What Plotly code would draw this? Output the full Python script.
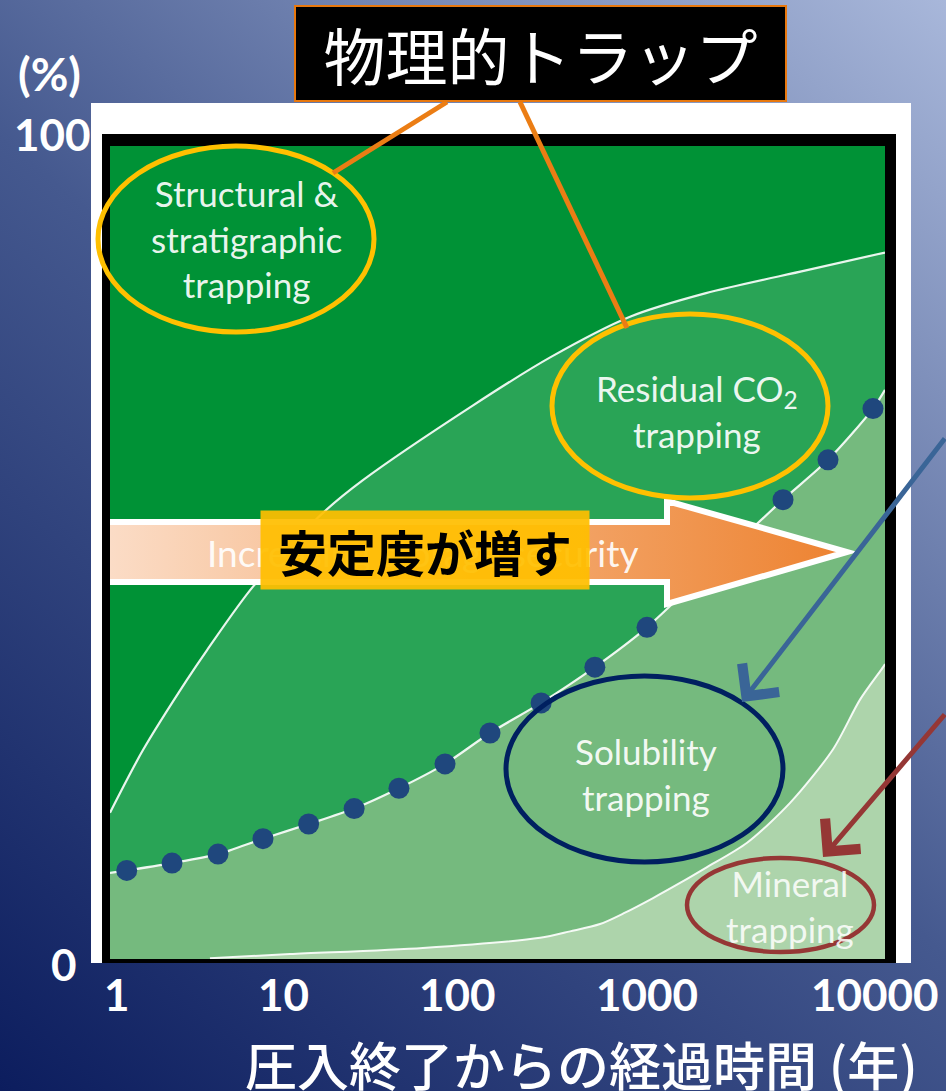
import base64
import math
import plotly.graph_objects as go

# ---- data: share of stored CO2 (%) versus years after injection stops ----
# upper edge of residual CO2 trapping (boundary with structural trapping)
RESIDUAL_YEARS = [1, 1.48, 2.49, 3.17, 5.47, 12.6, 20.2, 74.8, 187, 483, 1191, 3908, 10000]
RESIDUAL_PCT = [18.0, 25.7, 34.3, 38.0, 45.8, 54.9, 58.9, 68.1, 74.0, 79.0, 81.9, 84.7, 86.9]

# upper edge of solubility trapping
SOLUBILITY_YEARS = [1, 1.22, 2.09, 3.61, 6.16, 10.6, 18.2, 31.0, 53.6, 91.5, 168, 318, 591,
                    1010, 1722, 2976, 5080, 8670, 10000]
SOLUBILITY_PCT = [10.6, 10.9, 11.8, 12.9, 14.8, 16.6, 18.5, 21.0, 24.0, 27.8, 31.5, 35.9, 40.8,
                  46.0, 51.2, 56.5, 61.4, 67.7, 70.0]

# upper edge of mineral trapping
MINERAL_YEARS = [3.28, 8.49, 41.2, 166, 237, 338, 455, 635, 875, 1206, 1941, 3236, 5395, 7430,
                 9772, 10000]
MINERAL_PCT = [0.1, 0.6, 1.35, 2.6, 3.4, 4.3, 5.7, 7.5, 9.35, 11.3, 14.3, 19.2, 25.8, 31.9,
               35.9, 36.3]

# dotted marker line along the solubility edge
DOT_YEARS = [1.22, 2.09, 3.61, 6.16, 10.6, 18.2, 31.0, 53.6, 91.5, 168, 318, 591,
             1010, 1722, 2976, 5080, 8670]
DOT_PCT = [10.9, 11.8, 12.9, 14.8, 16.6, 18.5, 21.0, 24.0, 27.8, 31.5, 35.9, 40.8,
           46.0, 51.2, 56.5, 61.4, 67.7]

X_TICK_VALUES = [1, 10, 100, 1000, 10000]
X_TICK_LABELS = ["1", "10", "100", "1000", "10000"]
Y_TICK_VALUES = [0, 100]
Y_TICK_LABELS = ["0", "100"]

# ---- page geometry (pixels) ----
W, H = 946, 1091
PL, PR, PT, PB = 110, 885, 146, 959          # plot area edges
PW, PH = PR - PL, PB - PT


def fx(px):
    return (px - PL) / PW


def fy(py):
    return (PB - py) / PH


def svg_uri(svg):
    return "data:image/svg+xml;base64," + base64.b64encode(svg.encode("utf-8")).decode("ascii")


C_STRUCT = "#009236"
C_RESID = "#29A456"
C_SOLUB = "#75BA7E"
C_MINER = "#ADD4AB"
C_DOT = "#1F477D"
EDGE = "rgba(255,255,255,0.9)"
LABEL_FONT = "Lato, 'Open Sans', sans-serif"
NUM_FONT = "Lato, 'DejaVu Sans', sans-serif"
JP_FONT = "'Noto Sans CJK JP', sans-serif"

fig = go.Figure()

# structural trapping fills the whole area, later layers stack over it
fig.add_trace(go.Scatter(x=[1, 10000], y=[100, 100], mode="lines", line=dict(width=0),
                         fill="tozeroy", fillcolor=C_STRUCT, hoverinfo="skip", showlegend=False))
fig.add_trace(go.Scatter(x=RESIDUAL_YEARS, y=RESIDUAL_PCT, mode="lines",
                         line=dict(color=EDGE, width=2.2, shape="spline", smoothing=0.8),
                         fill="tozeroy", fillcolor=C_RESID, hoverinfo="skip", showlegend=False))
fig.add_trace(go.Scatter(x=SOLUBILITY_YEARS, y=SOLUBILITY_PCT, mode="lines",
                         line=dict(color=EDGE, width=2.2, shape="spline", smoothing=0.8),
                         fill="tozeroy", fillcolor=C_SOLUB, hoverinfo="skip", showlegend=False))
fig.add_trace(go.Scatter(x=MINERAL_YEARS, y=MINERAL_PCT, mode="lines",
                         line=dict(color=EDGE, width=2, shape="spline", smoothing=0.8),
                         fill="tozeroy", fillcolor=C_MINER, hoverinfo="skip", showlegend=False))
fig.add_trace(go.Scatter(x=DOT_YEARS, y=DOT_PCT, mode="markers",
                         marker=dict(color=C_DOT, size=21, line=dict(width=0)),
                         hoverinfo="skip", showlegend=False))

# slide background: diagonal blue gradient
bg_svg = (
    f'<svg xmlns="http://www.w3.org/2000/svg" width="{W}" height="{H}" viewBox="0 0 {W} {H}" '
    'preserveAspectRatio="none"><defs>'
    f'<linearGradient id="g" x1="0" y1="{H}" x2="{W}" y2="0" gradientUnits="userSpaceOnUse">'
    '<stop offset="0" stop-color="#0C1D5E"/><stop offset="0.5" stop-color="#45598F"/>'
    '<stop offset="1" stop-color="#A8B7DA"/></linearGradient></defs>'
    f'<rect width="{W}" height="{H}" fill="url(#g)"/></svg>'
)

# "increasing storage security" arrow with a peach-to-orange gradient,
# clipped at the left edge of the plot so the shaft runs out of the frame
arrow_pts = [(100, 522), (667, 522), (667, 501), (847, 552), (667, 604), (667, 582), (100, 582)]
arrow_svg = (
    f'<svg xmlns="http://www.w3.org/2000/svg" width="{W}" height="{H}" viewBox="0 0 {W} {H}" '
    'preserveAspectRatio="none"><defs>'
    '<linearGradient id="a" x1="110" y1="0" x2="850" y2="0" gradientUnits="userSpaceOnUse">'
    '<stop offset="0" stop-color="#FBDCC6"/><stop offset="0.45" stop-color="#F5B27E"/>'
    '<stop offset="1" stop-color="#ED8230"/></linearGradient>'
    f'<clipPath id="c"><rect x="{PL}" y="0" width="{W - PL}" height="{H}"/></clipPath></defs>'
    '<polygon clip-path="url(#c)" points="' + " ".join(f"{x},{y}" for x, y in arrow_pts) + '" '
    'fill="url(#a)" stroke="#FFFFFF" stroke-width="6" stroke-linejoin="miter"/></svg>'
)

full_page = dict(xref="paper", yref="paper", x=fx(0), y=fy(0), sizex=W / PW, sizey=H / PH,
                 xanchor="left", yanchor="top", sizing="stretch")
images = [
    dict(source=svg_uri(bg_svg), layer="below", **full_page),
    dict(source=svg_uri(arrow_svg), layer="above", **full_page),
]


def rect(x0, y0, x1, y1, color, layer="below"):
    return dict(type="rect", xref="paper", yref="paper", x0=fx(x0), x1=fx(x1), y0=fy(y1), y1=fy(y0),
                fillcolor=color, line=dict(width=0), layer=layer)


def ellipse(x0, y0, x1, y1, color, width):
    return dict(type="circle", xref="paper", yref="paper", x0=fx(x0), x1=fx(x1), y0=fy(y1), y1=fy(y0),
                line=dict(color=color, width=width), fillcolor="rgba(0,0,0,0)", layer="above")


def seg(x0, y0, x1, y1, color, width):
    return dict(type="line", xref="paper", yref="paper", x0=fx(x0), y0=fy(y0), x1=fx(x1), y1=fy(y1),
                line=dict(color=color, width=width), layer="above")


shapes = [
    rect(91, 103, 911, 963, "#FFFFFF"),
    rect(102, 134, 896, 963, "#000000"),
    ellipse(98, 146, 374, 332, "#FFC000", 5),
    ellipse(552, 314, 828, 498, "#FFC000", 5),
    ellipse(506, 676, 783, 862, "#002060", 5),
    ellipse(687, 858, 874, 952, "#953735", 4.5),
    seg(447, 102, 333, 173, "#EB7D14", 5),
    seg(520, 102, 627, 328, "#EB7D14", 5),
]


def note(text, px, py, size, color="rgba(255,255,255,0.93)", family=LABEL_FONT, **kw):
    font = dict(size=size, color=color, family=family)
    if "weight" in kw:
        font["weight"] = kw.pop("weight")
    return dict(text=text, xref="paper", yref="paper", x=fx(px), y=fy(py), showarrow=False,
                xanchor="center", yanchor="middle", font=font, **kw)


annotations = [
    note("Increasing storage security", 423, 552, 37, color="rgba(255,255,255,0.92)"),
    note("<b>安定度が増す</b>", 425, 550, 49, color="#000000", family=JP_FONT,
         bgcolor="rgba(255,190,0,0.93)", width=328, height=78, borderpad=0),
    note("Structural &<br>stratigraphic<br>trapping", 246, 238, 35),
    note("Residual CO<sub>2</sub><br>trapping", 697, 411, 35),
    note("Solubility<br>trapping", 646, 774, 35),
    note("Mineral<br>trapping", 790, 906, 35, color="rgba(255,255,255,0.85)"),
    note("物理的トラップ", 540, 54, 62, color="#FFFFFF", family=JP_FONT,
         bgcolor="#000000", bordercolor="#E8780E", borderwidth=2, borderpad=0,
         width=489, height=93),
    note("<b>(%)</b>", 49, 73, 46, color="#FFFFFF", family=NUM_FONT),
    note("圧入終了からの経過時間 (年)", 581, 1063, 52, color="#FFFFFF", family=JP_FONT,
         weight=500),
    # pointers to solubility and mineral trapping
    dict(text="", xref="paper", yref="paper", x=fx(742), y=fy(702), ax=204, ay=-265,
         showarrow=True, arrowhead=4, arrowsize=1.8, arrowwidth=5, arrowcolor="#3A6597",
         standoff=0, startstandoff=0),
    dict(text="", xref="paper", yref="paper", x=fx(823), y=fy(857), ax=123, ay=-144,
         showarrow=True, arrowhead=4, arrowsize=1.8, arrowwidth=5, arrowcolor="#953735",
         standoff=0, startstandoff=0),
]

# axis numbers, nudged to where they sit on the slide
x_label_shift = [7, -20, -40, -44, -10]
for v, lab, dx in zip(X_TICK_VALUES, X_TICK_LABELS, x_label_shift):
    annotations.append(dict(text=f"<b>{lab}</b>", xref="x", yref="paper", x=math.log10(v), y=fy(994),
                            xshift=dx, showarrow=False, xanchor="center", yanchor="middle",
                            font=dict(size=44, color="#FFFFFF", family=NUM_FONT)))
y_label_right = [79, 93]
y_label_mid = [964, 134]
for v, lab, rx, my in zip(Y_TICK_VALUES, Y_TICK_LABELS, y_label_right, y_label_mid):
    annotations.append(dict(text=f"<b>{lab}</b>", xref="paper", yref="y", x=fx(rx), y=v,
                            yshift=(PB - my) - (PB - PT) * v / 100, showarrow=False,
                            xanchor="right", yanchor="middle",
                            font=dict(size=44, color="#FFFFFF", family=NUM_FONT)))

fig.update_layout(
    width=W, height=H,
    margin=dict(l=PL, r=W - PR, t=PT, b=H - PB, pad=0),
    paper_bgcolor="#2A3F7A",
    plot_bgcolor="rgba(0,0,0,0)",
    xaxis=dict(type="log", range=[0, 4], showgrid=False, zeroline=False, showline=False,
               showticklabels=False, ticks="", fixedrange=True),
    yaxis=dict(range=[0, 100], showgrid=False, zeroline=False, showline=False,
               showticklabels=False, ticks="", fixedrange=True),
    images=images,
    shapes=shapes,
    annotations=annotations,
    showlegend=False,
)

fig.write_html("out.html", config={"displayModeBar": False})
